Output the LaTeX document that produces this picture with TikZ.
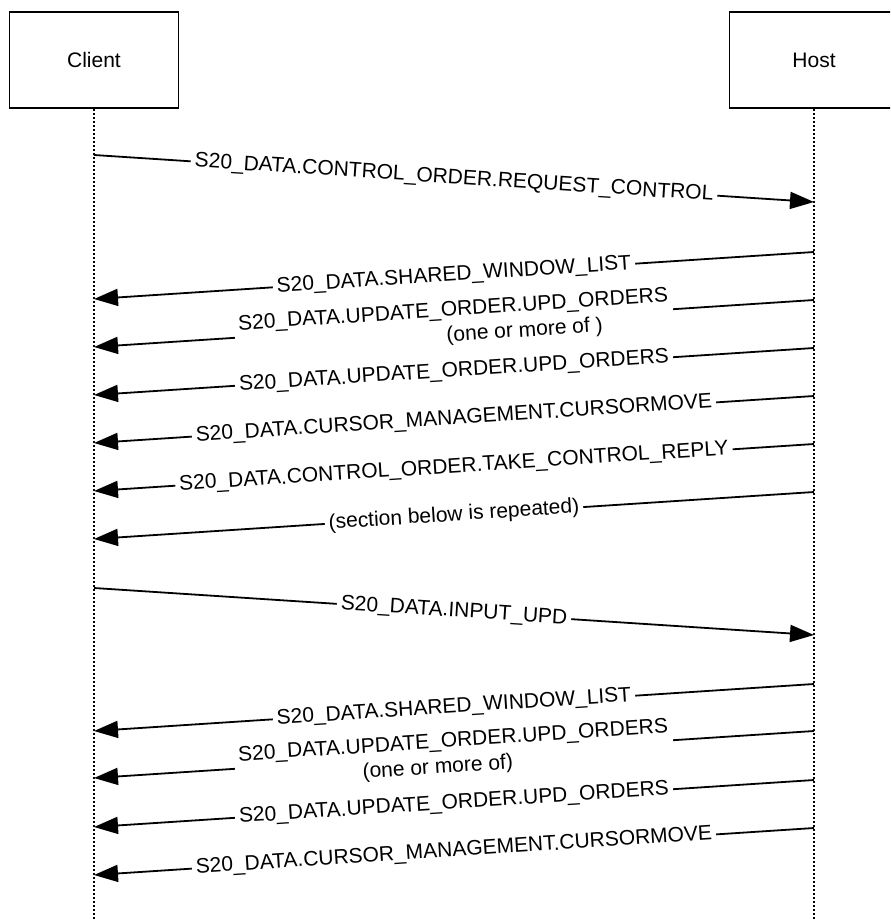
\documentclass[tikz,border=0pt]{standalone}
\usepackage{fontspec}
\setmainfont{Liberation Sans}
\usetikzlibrary{arrows.meta}

\def\xcli{94}
\def\xhst{814}
\def\drop{47}

\begin{document}
\begin{tikzpicture}[x=0.5pt, y=-0.5pt,
                    >={Triangle[length=12pt,width=8.5pt]},
                    font=\fontsize{10.5}{12.6}\selectfont,
                    actor/.style={draw, line width=0.9pt, minimum width=84.5pt,
                                  minimum height=48pt, inner sep=0pt},
                    lifeline/.style={line width=0.8pt, dash pattern=on 1pt off 1pt},
                    msg/.style={->, line width=0.9pt},
                    lbl/.style={sloped, fill=white, inner sep=2pt, align=center}
                   ]

    \clip (0,0) rectangle (890,920);

    \node [actor] (client) at (\xcli,60) {Client};
    \node [actor] (host) at (\xhst,60) {Host};
    \coordinate (clientend) at (\xcli,920);
    \coordinate (hostend) at (\xhst,920);
    \draw [lifeline] (client) -- (clientend);
    \draw [lifeline] (host) -- (hostend);

    \foreach \n/\from/\to/\ys/\txt in {
        1/\xcli/\xhst/155/{S20\_DATA.CONTROL\_ORDER.REQUEST\_CONTROL},
        2/\xhst/\xcli/252/{S20\_DATA.SHARED\_WINDOW\_LIST},
        3/\xhst/\xcli/300/{S20\_DATA.UPDATE\_ORDER.UPD\_ORDERS\\\hspace*{70pt}(one or more of )},
        4/\xhst/\xcli/348/{S20\_DATA.UPDATE\_ORDER.UPD\_ORDERS},
        5/\xhst/\xcli/396/{S20\_DATA.CURSOR\_MANAGEMENT.CURSORMOVE},
        6/\xhst/\xcli/444/{S20\_DATA.CONTROL\_ORDER.TAKE\_CONTROL\_REPLY},
        7/\xhst/\xcli/492/{(section below is repeated)},
        8/\xcli/\xhst/588/{S20\_DATA.INPUT\_UPD},
        9/\xhst/\xcli/684/{S20\_DATA.SHARED\_WINDOW\_LIST},
        10/\xhst/\xcli/731/{S20\_DATA.UPDATE\_ORDER.UPD\_ORDERS\\(one or more of)\hspace*{17pt}},
        11/\xhst/\xcli/780/{S20\_DATA.UPDATE\_ORDER.UPD\_ORDERS},
        12/\xhst/\xcli/828/{S20\_DATA.CURSOR\_MANAGEMENT.CURSORMOVE}}{
        \coordinate (s\n) at (\from,\ys);
        \coordinate (e\n) at (\to,\ys+\drop);
        \draw [msg] (s\n) -- node [lbl] (l\n) {\txt} (e\n);
    }

\end{tikzpicture}
\end{document}
